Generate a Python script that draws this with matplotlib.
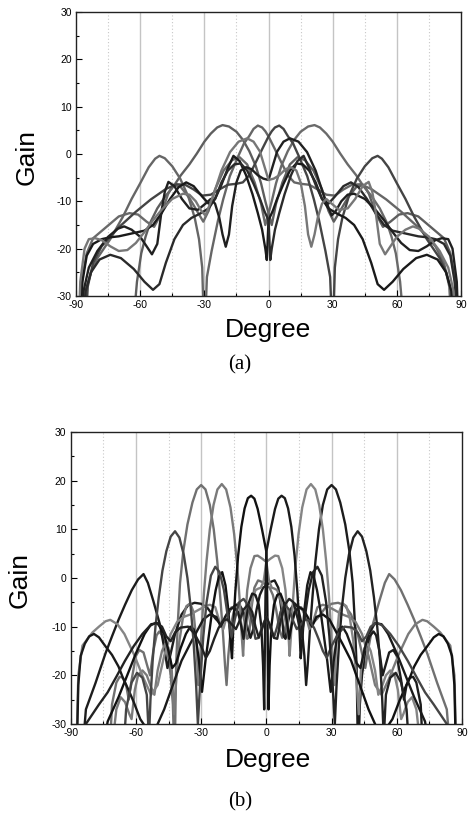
import numpy as np
import matplotlib.pyplot as plt
from matplotlib.ticker import MultipleLocator

# The picture is mirror-symmetric about 0 deg: every beam steered to the left has a
# partner steered to the right. Each list below is what one curve does on the left
# half (-90..0); a full curve is one trace followed by the mirrored partner trace.

# ---- panel (a) traces: (degree, gain) ----
a1 = [(-64, -40), (-61.5, -27), (-59.5, -21), (-57.5, -17.5), (-55.4, -14.6), (-52, -11.5),
      (-48, -8.8), (-44.5, -6.9), (-41, -4.5), (-37, -2.2), (-33.5, 0.1), (-30, 2.6), (-27, 4.3),
      (-24, 5.6), (-21.5, 6.1), (-18.5, 5.8), (-15, 4.7), (-12, 3.0), (-9, 0.6), (-6, -2.5),
      (-3.5, -6.2), (-1.5, -10), (0, -12.5)]
a2 = [(-89, -40), (-87, -26), (-85, -21), (-82, -17.8), (-76, -15.5), (-70, -13.2), (-65, -12.5),
      (-61, -12.8), (-57, -14.3), (-53.5, -15.4), (-50, -12.5), (-47, -8.5), (-44.5, -6.5),
      (-41, -7), (-37, -9.3), (-33.5, -12), (-30.5, -14.3), (-28, -12), (-25, -7.5), (-21, -3.5),
      (-17, -1.3), (-13.5, -0.7), (-10, -2.2), (-6.5, -6), (-3.5, -10.5), (-1.5, -15), (0, -12.5)]
a3 = [(-87, -40), (-85.5, -29), (-83, -25), (-80, -22), (-74, -18), (-68, -13.2), (-64, -9.5),
      (-60, -6.2), (-56, -2.8), (-53, -1), (-51, -0.4), (-48.5, -0.9), (-45, -2.6), (-41.3, -5.2),
      (-37.5, -9), (-34.5, -13.5), (-32.5, -18), (-31, -24), (-30, -40), (-28.8, -26), (-26.6, -20.5),
      (-23.6, -14), (-21.2, -9.6), (-18.1, -4.7), (-14.2, -0.5), (-11.5, 2.2), (-9, 3.8), (-7, 5.3),
      (-5, 6.0), (-3, 5.6), (-1.5, 4.8), (0, 3.7)]
a4 = [(-86, -40), (-84.5, -28), (-82, -23), (-78, -19.5), (-74, -17.5), (-70, -15.5), (-62, -12.2),
      (-55, -9.6), (-48, -7.4), (-43, -6.4), (-39, -6.5), (-35, -7.5), (-31, -8.8), (-27, -8.6),
      (-23, -7.5), (-19, -6.5), (-15, -6.3), (-12, -6.0), (-9, -4.5), (-6, -1.8), (-3, 1.0), (0, 3.7)]
a5 = [(-88.5, -40), (-87, -27), (-85, -21.5), (-82, -19), (-78, -18), (-74, -17.6), (-70, -17.4),
      (-66, -17), (-62, -16.6), (-58, -16.2), (-54, -15), (-50, -12.5), (-46, -9.5), (-42, -7),
      (-38.5, -6), (-35, -6.8), (-31, -9), (-28, -10.5), (-25, -9.5), (-22, -6.5), (-19, -3),
      (-16.4, -0.4), (-13.5, -1.5), (-10.5, -4.5), (-7.5, -8.5), (-5, -12.5), (-3, -16), (-1.5, -20),
      (-0.8, -22.4), (0, -14)]
a6 = [(-87, -40), (-85.5, -29), (-83, -25), (-79, -22.3), (-74, -21.3), (-69, -22), (-63, -24.3),
      (-58, -27), (-54, -28.7), (-51, -27.5), (-48, -23), (-44, -18), (-40, -15), (-36, -13.5),
      (-32, -12.6), (-28, -11.5), (-25, -9.5), (-22, -6), (-19, -3.5), (-16, -2.2), (-13, -2),
      (-10, -3.5), (-7, -6.3), (-4, -9.5), (-2, -12), (0, -14)]
a7 = [(-88, -40), (-86.5, -29), (-84, -24), (-80, -20.5), (-75, -17.5), (-70.5, -15.8), (-67.5, -15.3),
      (-64, -16), (-60, -17.5), (-57, -19.5), (-54.5, -21.2), (-52, -19), (-50, -12), (-48.5, -8),
      (-46.8, -5.9), (-44, -6.8), (-40.5, -9.5), (-37, -11.5), (-33, -11.8), (-29.5, -10.5),
      (-27, -9.5), (-25, -10.5), (-23, -13.5), (-21.5, -17), (-20, -19.6), (-18.5, -17), (-17, -11),
      (-15, -6), (-13, -3.5), (-10.5, -2.8), (-8, -3.2), (-5, -4.5), (-2.5, -5.2), (0, -5.5)]
a8 = [(-89, -40), (-88, -27), (-86, -20), (-84, -18), (-81, -17.8), (-78, -18.2), (-74, -19.5),
      (-70, -20.5), (-66, -20.3), (-62, -18.8), (-58, -16.5), (-54, -14), (-50, -11.8), (-45, -9.5),
      (-40, -8.4), (-37, -8.6), (-34, -10), (-31.5, -12), (-29.5, -13), (-26, -9), (-22, -3.5),
      (-18, 0.4), (-14, 2.6), (-10, 3.3), (-7, 2.6), (-4, 0.5), (-2, -2.5), (0, -5.5)]

# pairs: (left trace, right trace mirrored, colour)
pairs_a = [(a1, a2, '#5e5e5e'), (a2, a1, '#6a6a6a'), (a3, a4, '#666666'), (a4, a3, '#444444'),
           (a5, a6, '#1a1a1a'), (a6, a5, '#2a2a2a'), (a7, a8, '#202020'), (a8, a7, '#777777')]

# ---- panel (b) traces ----
b1 = [(-72.5, -40), (-71, -26), (-69, -21.5), (-67.5, -20.3), (-66, -20.5), (-64.5, -22), (-63.3, -25),
      (-62, -21), (-60, -16), (-58.4, -14.8), (-56.5, -15.3), (-54.8, -18), (-53.5, -20), (-52, -15),
      (-50.5, -11.8), (-49.3, -11), (-47.5, -12), (-45.5, -15), (-44, -20), (-43, -26), (-42.2, -38),
      (-41.5, -18), (-40.7, -9), (-39.7, -1), (-38.2, 5.5), (-36.3, 11), (-34, 15.5), (-32, 18.2),
      (-30, 19.1), (-28, 18.2), (-26, 15), (-24.2, 10), (-22.6, 3.5), (-21.2, -4), (-20, -11), (-19, -18),
      (-18.3, -22), (-17.5, -16), (-16, -9), (-14.5, -6), (-13, -5.2), (-11.5, -6.2), (-10, -9),
      (-8.8, -12.5), (-8, -12), (-6.8, -6), (-5.5, -2), (-3.8, -0.5), (-2, -0.8), (0, -1.5)]
b5 = [(-85, -38), (-83, -27), (-78.6, -21.6), (-74, -15.5), (-71, -12), (-68, -8.6), (-65, -5.5),
      (-61.9, -2.5), (-59, -0.3), (-56.5, 0.8), (-54.5, -1), (-52, -4.7), (-49, -9.5), (-47, -14.3),
      (-45.5, -18.5), (-44, -15.5), (-42, -11.5), (-39, -7.5), (-36, -5.6), (-33, -5.1), (-30, -5.3),
      (-27, -6.2), (-23.5, -8.3), (-21, -9.5), (-19, -8.8), (-16.5, -6.5), (-14, -5.5), (-12, -5.8),
      (-10, -7.5), (-8.5, -10.5), (-7.3, -12.3), (-6, -10.5), (-4.5, -6.5), (-3, -3.5), (-1.5, -2),
      (0, -1.5)]
b2 = [(-71, -35), (-69, -27), (-67, -24.5), (-65, -25.5), (-63, -28), (-62, -29), (-60.5, -23),
      (-59, -20), (-57, -19), (-55, -20), (-53, -22.5), (-51.5, -24), (-50, -19), (-48, -15),
      (-46.5, -13.5), (-45, -14.5), (-43.5, -19), (-42.5, -28), (-41.3, -20), (-40, -13), (-38.5, -8.5),
      (-36.8, -5.8), (-35, -5.2), (-33.5, -7), (-32.2, -13), (-31.3, -22), (-30.5, -17), (-29.7, -10),
      (-28.7, -3), (-27.5, 3.5), (-26, 10), (-24.3, 15), (-22.5, 18.2), (-20.5, 19.3), (-18.5, 18.2),
      (-16.5, 14.5), (-14.8, 9), (-13.3, 2), (-12.2, -5), (-11.3, -12), (-10.7, -16), (-10, -10),
      (-8.8, -2.5), (-7.3, 2), (-5.5, 4.5), (-4, 4.6), (-2, 4.0), (0, 3.3)]
b6 = [(-87.5, -38), (-86.5, -20), (-84.6, -13.9), (-80, -11.2), (-77, -10), (-74, -8.9), (-71.8, -8.6),
      (-68.5, -9.5), (-65.3, -11.5), (-60.8, -15.8), (-56.4, -20.7), (-53, -24), (-50, -22), (-47, -16),
      (-44, -11.5), (-41, -9), (-38, -8), (-35, -7.5), (-31, -6.5), (-28, -5.8), (-26, -5.5),
      (-23.5, -6), (-21.5, -9), (-19.8, -10.5), (-18, -7.5), (-16, -6), (-14, -6.2), (-12, -8.5),
      (-10.2, -12.5), (-8.5, -8), (-6.5, -4.5), (-5, -2.5), (-3.8, -2.2), (-2.5, -2.0), (-1.2, -0.5),
      (0, 3.3)]
b3 = [(-76, -38), (-73, -29.5), (-71, -27.5), (-68, -24.5), (-64, -20), (-60, -15.5), (-56, -11.5),
      (-53, -9.5), (-50, -9.3), (-47, -11.5), (-45, -15), (-43.3, -18.5), (-41.5, -17.5), (-39.5, -14.5),
      (-37, -11.5), (-35, -10), (-33.5, -10.5), (-32.5, -12), (-31, -17), (-29.6, -23.4), (-28, -17),
      (-26.5, -12), (-25, -7), (-23.3, -2.5), (-21.8, 0.3), (-20.3, 1.2), (-18.8, -1.5), (-17.5, -6.5),
      (-16.5, -13), (-15.8, -16.5), (-15.2, -10), (-14.3, -3), (-13, 4.5), (-11.5, 10.5), (-10, 14.3),
      (-8.5, 16.4), (-7, 16.9), (-5.5, 16.3), (-4, 14.2), (-2, 10), (0, 5.4)]
b7 = [(-87.3, -38), (-86.5, -22), (-85.4, -16), (-83.5, -13.5), (-81.5, -12), (-79.3, -11.5),
      (-77, -12.2), (-73.9, -14.1), (-71, -15.8), (-68, -18.2), (-66, -20.5), (-63.4, -23), (-61, -25.5),
      (-58, -29), (-55, -31), (-51, -31), (-47, -27), (-43, -22), (-39, -17), (-35, -13.5), (-32, -11),
      (-29, -8.5), (-26, -7.5), (-23, -8), (-21, -10), (-19, -8), (-17, -6.5), (-15, -6), (-13, -7),
      (-11.5, -10), (-10.5, -12.5), (-9.5, -9), (-8, -5), (-6.5, -3.2), (-5, -3.5), (-3.5, -5.5),
      (-2.3, -10), (-1.5, -18), (-1.0, -27), (-0.7, -15), (-0.4, -4), (0, 5.4)]
b4 = [(-65.5, -34), (-64.5, -27), (-62, -21.5), (-59.5, -19.5), (-57, -20.5), (-55, -24), (-54, -33),
      (-53.3, -25), (-52.3, -17), (-51, -10), (-49.5, -4), (-47.8, 1.5), (-46, 5.5), (-44, 8.5),
      (-42, 9.6), (-40, 8.3), (-38, 4.8), (-36.3, 0), (-34.8, -6), (-33.5, -13), (-32.3, -22),
      (-31.5, -30), (-30.5, -22), (-29, -12), (-27.5, -5), (-25.5, 0.5), (-23.5, 2.3), (-21.5, 1.2),
      (-19.5, -2.5), (-17.7, -8), (-16, -12.1), (-14.5, -8.5), (-12.5, -5), (-10.5, -4.3), (-8.5, -5.5),
      (-6.5, -9), (-5, -12.5), (-3.5, -12.3), (-2, -10), (0, -8)]
b8 = [(-85, -35), (-83, -30), (-80, -28), (-77, -26), (-73, -23.5), (-69, -20.3), (-65, -17),
      (-61, -14), (-57, -11.5), (-53.5, -9.8), (-50.8, -9.2), (-48, -10), (-46, -12), (-44, -13),
      (-42, -11.2), (-39.5, -10.2), (-36, -10), (-33, -11.5), (-30, -14), (-27.8, -16.4), (-26, -15),
      (-24, -12.5), (-22, -10.3), (-20, -8.8), (-18, -8.5), (-16, -9.5), (-14, -10.5), (-12.5, -9),
      (-10.5, -6.5), (-8.5, -5.5), (-6.5, -7), (-5, -10), (-3.5, -12.2), (-2, -10.5), (0, -8)]

pairs_b = [(b1, b5, '#707070'), (b5, b1, '#1c1c1c'), (b2, b6, '#7a7a7a'), (b6, b2, '#858585'),
           (b3, b7, '#111111'), (b7, b3, '#1a1a1a'), (b4, b8, '#454545'), (b8, b4, '#222222')]

x_ticks = [-90, -60, -30, 0, 30, 60, 90]
y_ticks = [-30, -20, -10, 0, 10, 20, 30]

plt.rcParams['font.family'] = ['Liberation Sans', 'DejaVu Sans']
plt.rcParams['axes.unicode_minus'] = False

fig = plt.figure(figsize=(4.70, 8.14), dpi=100)
ax_a = fig.add_axes([0.1617, 0.6364, 0.8193, 0.3489])
ax_b = fig.add_axes([0.1504, 0.1106, 0.8326, 0.3587])


def full_curve(left, right):
    left = np.array(left, dtype=float)
    right = np.array(right, dtype=float)[::-1]
    x = np.concatenate([left[:, 0], -right[1:, 0]])
    y = np.concatenate([left[:, 1], right[1:, 1]])
    return x, y


def style(ax):
    ax.set_xlim(-90, 90)
    ax.set_ylim(-30, 30)
    ax.set_xticks(x_ticks)
    ax.set_yticks(y_ticks)
    ax.xaxis.set_minor_locator(MultipleLocator(15))
    ax.yaxis.set_minor_locator(MultipleLocator(5))
    for v in [-60, -30, 0, 30, 60]:
        ax.axvline(v, color='#c4c4c4', lw=1.0, zorder=0)
    for v in [-75, -45, -15, 15, 45, 75]:
        ax.axvline(v, color='#c8c8c8', lw=0.8, ls=(0, (1, 2)), zorder=0)
    ax.tick_params(which='both', direction='in', top=False, right=False, labelsize=7.5,
                   width=0.8, pad=3)
    ax.tick_params(which='major', length=4)
    ax.tick_params(which='minor', length=2)
    for s in ax.spines.values():
        s.set_linewidth(1.0)
        s.set_color('#222222')


for ax, pairs in [(ax_a, pairs_a), (ax_b, pairs_b)]:
    style(ax)
    for left, right, col in pairs:
        x, y = full_curve(left, right)
        ax.plot(x, y, color=col, lw=1.7, solid_joinstyle='round', solid_capstyle='round')

for ax, gx, gy, dy, lab, ly in [(ax_a, 27, 157, 330, '(a)', 365), (ax_b, 20, 580, 760, '(b)', 802)]:
    fig.text(gx / 470, 1 - gy / 814, 'Gain', rotation=90, ha='center', va='center', fontsize=19)
    fig.text(268 / 470, 1 - dy / 814, 'Degree', ha='center', va='center', fontsize=19)
    fig.text(240 / 470, 1 - ly / 814, lab, ha='center', va='center', fontsize=15,
             family=['Liberation Serif', 'DejaVu Serif'])

fig.savefig('out.png', dpi=100)
